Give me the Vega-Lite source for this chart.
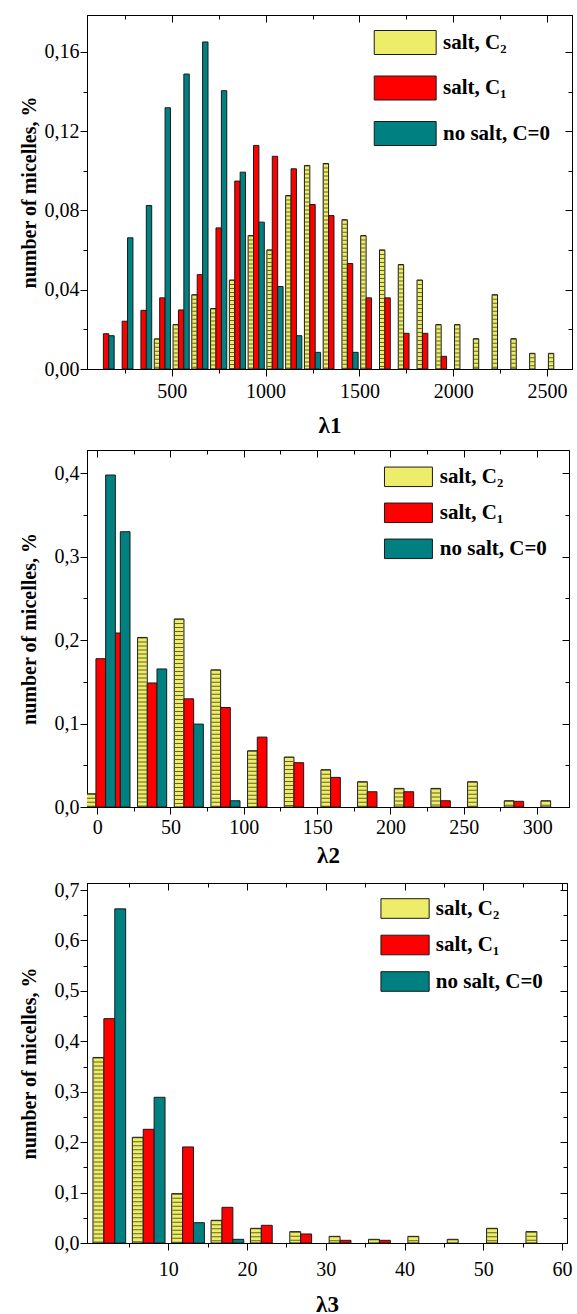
{
  "$schema": "https://vega.github.io/schema/vega-lite/v6.json",
  "padding": {"left": 18, "top": 14, "right": 0, "bottom": 0},
  "datasets": {
    "d1": [
      {"lam": 450, "series": "salt, C₂", "n": 0.0152},
      {"lam": 550, "series": "salt, C₂", "n": 0.0224},
      {"lam": 650, "series": "salt, C₂", "n": 0.0375},
      {"lam": 750, "series": "salt, C₂", "n": 0.0305},
      {"lam": 850, "series": "salt, C₂", "n": 0.0449},
      {"lam": 950, "series": "salt, C₂", "n": 0.0673},
      {"lam": 1050, "series": "salt, C₂", "n": 0.0601},
      {"lam": 1150, "series": "salt, C₂", "n": 0.0875},
      {"lam": 1250, "series": "salt, C₂", "n": 0.1027},
      {"lam": 1350, "series": "salt, C₂", "n": 0.1037},
      {"lam": 1450, "series": "salt, C₂", "n": 0.0753},
      {"lam": 1550, "series": "salt, C₂", "n": 0.0673},
      {"lam": 1650, "series": "salt, C₂", "n": 0.0601},
      {"lam": 1750, "series": "salt, C₂", "n": 0.0527},
      {"lam": 1850, "series": "salt, C₂", "n": 0.0449},
      {"lam": 1950, "series": "salt, C₂", "n": 0.0224},
      {"lam": 2050, "series": "salt, C₂", "n": 0.0224},
      {"lam": 2150, "series": "salt, C₂", "n": 0.0153},
      {"lam": 2250, "series": "salt, C₂", "n": 0.0375},
      {"lam": 2350, "series": "salt, C₂", "n": 0.0153},
      {"lam": 2450, "series": "salt, C₂", "n": 0.0079},
      {"lam": 2550, "series": "salt, C₂", "n": 0.0079},
      {"lam": 150, "series": "salt, C₁", "n": 0.0178},
      {"lam": 250, "series": "salt, C₁", "n": 0.0241},
      {"lam": 350, "series": "salt, C₁", "n": 0.0296},
      {"lam": 450, "series": "salt, C₁", "n": 0.0359},
      {"lam": 550, "series": "salt, C₁", "n": 0.0298},
      {"lam": 650, "series": "salt, C₁", "n": 0.0476},
      {"lam": 750, "series": "salt, C₁", "n": 0.0712},
      {"lam": 850, "series": "salt, C₁", "n": 0.0948},
      {"lam": 950, "series": "salt, C₁", "n": 0.1128},
      {"lam": 1050, "series": "salt, C₁", "n": 0.1073},
      {"lam": 1150, "series": "salt, C₁", "n": 0.101},
      {"lam": 1250, "series": "salt, C₁", "n": 0.083},
      {"lam": 1350, "series": "salt, C₁", "n": 0.0774},
      {"lam": 1450, "series": "salt, C₁", "n": 0.0532},
      {"lam": 1550, "series": "salt, C₁", "n": 0.0359},
      {"lam": 1650, "series": "salt, C₁", "n": 0.0359},
      {"lam": 1750, "series": "salt, C₁", "n": 0.018},
      {"lam": 1850, "series": "salt, C₁", "n": 0.018},
      {"lam": 1950, "series": "salt, C₁", "n": 0.0064},
      {"lam": 150, "series": "no salt, C=0", "n": 0.0168},
      {"lam": 250, "series": "no salt, C=0", "n": 0.0662},
      {"lam": 350, "series": "no salt, C=0", "n": 0.0825},
      {"lam": 450, "series": "no salt, C=0", "n": 0.1318},
      {"lam": 550, "series": "no salt, C=0", "n": 0.1488},
      {"lam": 650, "series": "no salt, C=0", "n": 0.165},
      {"lam": 750, "series": "no salt, C=0", "n": 0.1404},
      {"lam": 850, "series": "no salt, C=0", "n": 0.0993},
      {"lam": 950, "series": "no salt, C=0", "n": 0.0741},
      {"lam": 1050, "series": "no salt, C=0", "n": 0.0416},
      {"lam": 1150, "series": "no salt, C=0", "n": 0.0168},
      {"lam": 1250, "series": "no salt, C=0", "n": 0.0084},
      {"lam": 1450, "series": "no salt, C=0", "n": 0.0084}
    ],
    "d2": [
      {"lam": 2.5, "series": "salt, C₂", "n": 0.0158},
      {"lam": 37.5, "series": "salt, C₂", "n": 0.2033},
      {"lam": 62.5, "series": "salt, C₂", "n": 0.2255},
      {"lam": 87.5, "series": "salt, C₂", "n": 0.1644},
      {"lam": 112.5, "series": "salt, C₂", "n": 0.0674},
      {"lam": 137.5, "series": "salt, C₂", "n": 0.0599},
      {"lam": 162.5, "series": "salt, C₂", "n": 0.0447},
      {"lam": 187.5, "series": "salt, C₂", "n": 0.0303},
      {"lam": 212.5, "series": "salt, C₂", "n": 0.0223},
      {"lam": 237.5, "series": "salt, C₂", "n": 0.0223},
      {"lam": 262.5, "series": "salt, C₂", "n": 0.0303},
      {"lam": 287.5, "series": "salt, C₂", "n": 0.0075},
      {"lam": 312.5, "series": "salt, C₂", "n": 0.0075},
      {"lam": 2.5, "series": "salt, C₁", "n": 0.1778},
      {"lam": 12.5, "series": "salt, C₁", "n": 0.2086},
      {"lam": 37.5, "series": "salt, C₁", "n": 0.1487},
      {"lam": 62.5, "series": "salt, C₁", "n": 0.1297},
      {"lam": 87.5, "series": "salt, C₁", "n": 0.1193},
      {"lam": 112.5, "series": "salt, C₁", "n": 0.0838},
      {"lam": 137.5, "series": "salt, C₁", "n": 0.0531},
      {"lam": 162.5, "series": "salt, C₁", "n": 0.0355},
      {"lam": 187.5, "series": "salt, C₁", "n": 0.0183},
      {"lam": 212.5, "series": "salt, C₁", "n": 0.0183},
      {"lam": 237.5, "series": "salt, C₁", "n": 0.0075},
      {"lam": 287.5, "series": "salt, C₁", "n": 0.0068},
      {"lam": 2.5, "series": "no salt, C=0", "n": 0.398},
      {"lam": 12.5, "series": "no salt, C=0", "n": 0.33},
      {"lam": 37.5, "series": "no salt, C=0", "n": 0.1655},
      {"lam": 62.5, "series": "no salt, C=0", "n": 0.0994},
      {"lam": 87.5, "series": "no salt, C=0", "n": 0.0075}
    ],
    "d3": [
      {"lam": 2.5, "series": "salt, C₂", "n": 0.368},
      {"lam": 7.5, "series": "salt, C₂", "n": 0.2097},
      {"lam": 12.5, "series": "salt, C₂", "n": 0.0979},
      {"lam": 17.5, "series": "salt, C₂", "n": 0.045},
      {"lam": 22.5, "series": "salt, C₂", "n": 0.0291},
      {"lam": 27.5, "series": "salt, C₂", "n": 0.0225},
      {"lam": 32.5, "series": "salt, C₂", "n": 0.0132},
      {"lam": 37.5, "series": "salt, C₂", "n": 0.0073},
      {"lam": 42.5, "series": "salt, C₂", "n": 0.0132},
      {"lam": 47.5, "series": "salt, C₂", "n": 0.0073},
      {"lam": 52.5, "series": "salt, C₂", "n": 0.0291},
      {"lam": 57.5, "series": "salt, C₂", "n": 0.0225},
      {"lam": 2.5, "series": "salt, C₁", "n": 0.445},
      {"lam": 7.5, "series": "salt, C₁", "n": 0.2255},
      {"lam": 12.5, "series": "salt, C₁", "n": 0.1905},
      {"lam": 17.5, "series": "salt, C₁", "n": 0.0708},
      {"lam": 22.5, "series": "salt, C₁", "n": 0.0351},
      {"lam": 27.5, "series": "salt, C₁", "n": 0.0179},
      {"lam": 32.5, "series": "salt, C₁", "n": 0.0053},
      {"lam": 37.5, "series": "salt, C₁", "n": 0.0053},
      {"lam": 2.5, "series": "no salt, C=0", "n": 0.6627},
      {"lam": 7.5, "series": "no salt, C=0", "n": 0.289},
      {"lam": 12.5, "series": "no salt, C=0", "n": 0.0403},
      {"lam": 17.5, "series": "no salt, C=0", "n": 0.0073}
    ]
  },
  "concat": [
    {
      "width": 485, "height": 354,
      "data": {"name": "d1"},
      "layer": [
        {
          "encoding": {
            "x": {"field": "lam", "type": "quantitative", "scale": {"domain": [75, 2606], "nice": false, "zero": false},
              "axis": {"orient": "bottom", "values": [250, 500, 750, 1000, 1250, 1500, 1750, 2000, 2250, 2500], "title": "λ1", "titleFontSize": 23, "titlePadding": 13, "labelPadding": 5,
                "labelExpr": "datum.value % 500 === 0 ? format(datum.value, 'd') : ''",
                "tickSize": {"condition": {"test": "datum.value % 500 === 0", "value": 7}, "value": 4}}},
            "y": {"field": "n", "type": "quantitative", "scale": {"domain": [0, 0.1786], "nice": false},
              "axis": {"orient": "left", "values": [0, 0.02, 0.04, 0.06, 0.08, 0.1, 0.12, 0.14, 0.16], "title": "number of micelles, %", "titlePadding": 5, "labelPadding": 1,
                "labelExpr": "abs(datum.value / 0.04 - round(datum.value / 0.04)) < 1e-6 ? replace(format(datum.value, '.2f'), '.', ',') : ''",
                "tickSize": {"condition": {"test": "abs(datum.value / 0.04 - round(datum.value / 0.04)) < 1e-6", "value": 7}, "value": 4}}},
            "color": {"field": "series", "type": "nominal",
              "scale": {"domain": ["salt, C₂", "salt, C₁", "no salt, C=0"], "range": ["#eded6a", "#ff0000", "#008080"]},
              "legend": {"orient": "none", "legendX": 305.7, "legendY": 15, "title": null, "padding": 0,
                "symbolType": "M-2.58,-1H2.58V1H-2.58Z", "symbolSize": 576, "symbolStrokeColor": "#1a1a1a", "symbolStrokeWidth": 1, "symbolOpacity": 1,
                "labelFont": "Liberation Serif", "labelFontWeight": "bold", "labelFontSize": 21, "labelColor": "black", "labelOffset": 25.3, "rowPadding": 16.5, "labelLimit": 300}}
          },
          "layer": [
            {"transform": [{"filter": "datum.series === 'salt, C₂'"}], "mark": {"type": "bar", "width": 5.4, "xOffset": -5.4, "stroke": "#1a1a1a", "strokeWidth": 1, "clip": true}},
            {"transform": [{"filter": "datum.series === 'salt, C₂'"}], "mark": {"type": "rule", "xOffset": -5.4, "strokeWidth": 4.2, "strokeDash": [1, 3], "opacity": 0.7, "clip": true},
              "encoding": {"y2": {"datum": 0}, "color": {"value": "#2a2a10"}}},
            {"transform": [{"filter": "datum.series === 'salt, C₁'"}], "mark": {"type": "bar", "width": 5.4, "xOffset": 0, "stroke": "#1a1a1a", "strokeWidth": 1, "clip": true}},
            {"transform": [{"filter": "datum.series === 'no salt, C=0'"}], "mark": {"type": "bar", "width": 5.4, "xOffset": 5.4, "stroke": "#1a1a1a", "strokeWidth": 1, "clip": true}}
          ]
        },
        {
          "mark": {"type": "point", "opacity": 0},
          "encoding": {
            "x": {"field": "lam", "type": "quantitative", "scale": {"domain": [75, 2606], "nice": false, "zero": false},
              "axis": {"orient": "top", "values": [250, 500, 750, 1000, 1250, 1500, 1750, 2000, 2250, 2500], "title": null, "labels": false,
                "tickSize": {"condition": {"test": "datum.value % 500 === 0", "value": -7}, "value": -4}}},
            "y": {"field": "n", "type": "quantitative", "scale": {"domain": [0, 0.1786], "nice": false},
              "axis": {"orient": "right", "values": [0, 0.02, 0.04, 0.06, 0.08, 0.1, 0.12, 0.14, 0.16], "title": null, "labels": false,
                "tickSize": {"condition": {"test": "abs(datum.value / 0.04 - round(datum.value / 0.04)) < 1e-6", "value": -7}, "value": -4}}}
          }
        }
      ],
      "resolve": {"axis": {"x": "independent", "y": "independent"}}
    },
    {
      "width": 482, "height": 357,
      "data": {"name": "d2"},
      "layer": [
        {
          "encoding": {
            "x": {"field": "lam", "type": "quantitative", "scale": {"domain": [-3.5, 318.3], "nice": false, "zero": false},
              "axis": {"orient": "bottom", "values": [0, 25, 50, 75, 100, 125, 150, 175, 200, 225, 250, 275, 300], "title": "λ2", "titleFontSize": 23, "titlePadding": 7, "labelPadding": 3,
                "labelExpr": "datum.value % 50 === 0 ? format(datum.value, 'd') : ''",
                "tickSize": {"condition": {"test": "datum.value % 50 === 0", "value": 7}, "value": 4}}},
            "y": {"field": "n", "type": "quantitative", "scale": {"domain": [0, 0.428], "nice": false},
              "axis": {"orient": "left", "values": [0, 0.05, 0.1, 0.15, 0.2, 0.25, 0.3, 0.35, 0.4], "title": "number of micelles, %", "titlePadding": 15, "labelPadding": 1,
                "labelExpr": "abs(datum.value / 0.1 - round(datum.value / 0.1)) < 1e-6 ? replace(format(datum.value, '.1f'), '.', ',') : ''",
                "tickSize": {"condition": {"test": "abs(datum.value / 0.1 - round(datum.value / 0.1)) < 1e-6", "value": 7}, "value": 4}}},
            "color": {"field": "series", "type": "nominal",
              "scale": {"domain": ["salt, C₂", "salt, C₁", "no salt, C=0"], "range": ["#eded6a", "#ff0000", "#008080"]},
              "legend": {"orient": "none", "legendX": 310.95, "legendY": 16.3, "title": null, "padding": 0,
                "symbolType": "M-2.46,-1H2.46V1H-2.46Z", "symbolSize": 380, "symbolStrokeColor": "#1a1a1a", "symbolStrokeWidth": 1, "symbolOpacity": 1,
                "labelFont": "Liberation Serif", "labelFontWeight": "bold", "labelFontSize": 21, "labelColor": "black", "labelOffset": 20.85, "rowPadding": 11, "labelLimit": 300}}
          },
          "layer": [
            {"transform": [{"filter": "datum.series === 'salt, C₂'"}], "mark": {"type": "bar", "width": 9.7, "xOffset": -9.7, "stroke": "#1a1a1a", "strokeWidth": 1, "clip": true}},
            {"transform": [{"filter": "datum.series === 'salt, C₂'"}], "mark": {"type": "rule", "xOffset": -9.7, "strokeWidth": 8.5, "strokeDash": [1, 3], "opacity": 0.7, "clip": true},
              "encoding": {"y2": {"datum": 0}, "color": {"value": "#2a2a10"}}},
            {"transform": [{"filter": "datum.series === 'salt, C₁'"}], "mark": {"type": "bar", "width": 9.7, "xOffset": 0, "stroke": "#1a1a1a", "strokeWidth": 1, "clip": true}},
            {"transform": [{"filter": "datum.series === 'no salt, C=0'"}], "mark": {"type": "bar", "width": 9.7, "xOffset": 9.7, "stroke": "#1a1a1a", "strokeWidth": 1, "clip": true}}
          ]
        },
        {
          "mark": {"type": "point", "opacity": 0},
          "encoding": {
            "x": {"field": "lam", "type": "quantitative", "scale": {"domain": [-3.5, 318.3], "nice": false, "zero": false},
              "axis": {"orient": "top", "values": [0, 25, 50, 75, 100, 125, 150, 175, 200, 225, 250, 275, 300], "title": null, "labels": false,
                "tickSize": {"condition": {"test": "datum.value % 50 === 0", "value": -7}, "value": -4}}},
            "y": {"field": "n", "type": "quantitative", "scale": {"domain": [0, 0.428], "nice": false},
              "axis": {"orient": "right", "values": [0, 0.05, 0.1, 0.15, 0.2, 0.25, 0.3, 0.35, 0.4], "title": null, "labels": false,
                "tickSize": {"condition": {"test": "abs(datum.value / 0.1 - round(datum.value / 0.1)) < 1e-6", "value": -7}, "value": -4}}}
          }
        }
      ],
      "resolve": {"axis": {"x": "independent", "y": "independent"}}
    },
    {
      "width": 480, "height": 360,
      "data": {"name": "d3"},
      "layer": [
        {
          "encoding": {
            "x": {"field": "lam", "type": "quantitative", "scale": {"domain": [0.3, 60], "nice": false, "zero": false},
              "axis": {"orient": "bottom", "values": [5, 10, 15, 20, 25, 30, 35, 40, 45, 50, 55, 60], "title": "λ3", "titleFontSize": 23, "titlePadding": 14, "labelPadding": 9,
                "labelExpr": "datum.value % 10 === 0 ? format(datum.value, 'd') : ''",
                "tickSize": {"condition": {"test": "datum.value % 10 === 0", "value": 7}, "value": 4}}},
            "y": {"field": "n", "type": "quantitative", "scale": {"domain": [0, 0.714], "nice": false},
              "axis": {"orient": "left", "values": [0, 0.05, 0.1, 0.15, 0.2, 0.25, 0.3, 0.35, 0.4, 0.45, 0.5, 0.55, 0.6, 0.65, 0.7], "title": "number of micelles, %", "titlePadding": 15, "labelPadding": 1,
                "labelExpr": "abs(datum.value / 0.1 - round(datum.value / 0.1)) < 1e-6 ? replace(format(datum.value, '.1f'), '.', ',') : ''",
                "tickSize": {"condition": {"test": "abs(datum.value / 0.1 - round(datum.value / 0.1)) < 1e-6", "value": 7}, "value": 4}}},
            "color": {"field": "series", "type": "nominal",
              "scale": {"domain": ["salt, C₂", "salt, C₁", "no salt, C=0"], "range": ["#eded6a", "#ff0000", "#008080"]},
              "legend": {"orient": "none", "legendX": 307.55, "legendY": 15, "title": null, "padding": 0,
                "symbolType": "M-2.46,-1H2.46V1H-2.46Z", "symbolSize": 384, "symbolStrokeColor": "#1a1a1a", "symbolStrokeWidth": 1, "symbolOpacity": 1,
                "labelFont": "Liberation Serif", "labelFontWeight": "bold", "labelFontSize": 21, "labelColor": "black", "labelOffset": 20.25, "rowPadding": 11.5, "labelLimit": 300}}
          },
          "layer": [
            {"transform": [{"filter": "datum.series === 'salt, C₂'"}], "mark": {"type": "bar", "width": 10.9, "xOffset": -10.9, "stroke": "#1a1a1a", "strokeWidth": 1, "clip": true}},
            {"transform": [{"filter": "datum.series === 'salt, C₂'"}], "mark": {"type": "rule", "xOffset": -10.9, "strokeWidth": 9.7, "strokeDash": [1, 3], "opacity": 0.7, "clip": true},
              "encoding": {"y2": {"datum": 0}, "color": {"value": "#2a2a10"}}},
            {"transform": [{"filter": "datum.series === 'salt, C₁'"}], "mark": {"type": "bar", "width": 10.9, "xOffset": 0, "stroke": "#1a1a1a", "strokeWidth": 1, "clip": true}},
            {"transform": [{"filter": "datum.series === 'no salt, C=0'"}], "mark": {"type": "bar", "width": 10.9, "xOffset": 10.9, "stroke": "#1a1a1a", "strokeWidth": 1, "clip": true}}
          ]
        },
        {
          "mark": {"type": "point", "opacity": 0},
          "encoding": {
            "x": {"field": "lam", "type": "quantitative", "scale": {"domain": [0.3, 60], "nice": false, "zero": false},
              "axis": {"orient": "top", "values": [5, 10, 15, 20, 25, 30, 35, 40, 45, 50, 55, 60], "title": null, "labels": false,
                "tickSize": {"condition": {"test": "datum.value % 10 === 0", "value": -7}, "value": -4}}},
            "y": {"field": "n", "type": "quantitative", "scale": {"domain": [0, 0.714], "nice": false},
              "axis": {"orient": "right", "values": [0, 0.05, 0.1, 0.15, 0.2, 0.25, 0.3, 0.35, 0.4, 0.45, 0.5, 0.55, 0.6, 0.65, 0.7], "title": null, "labels": false,
                "tickSize": {"condition": {"test": "abs(datum.value / 0.1 - round(datum.value / 0.1)) < 1e-6", "value": -7}, "value": -4}}}
          }
        }
      ],
      "resolve": {"axis": {"x": "independent", "y": "independent"}}
    }
  ],
  "columns": 1,
  "align": "none",
  "spacing": 11,
  "resolve": {"scale": {"x": "independent", "y": "independent", "color": "independent"}, "legend": {"color": "independent"}},
  "config": {
    "font": "Liberation Serif",
    "view": {"stroke": "black", "strokeWidth": 1},
    "axis": {"domainColor": "black", "tickColor": "black", "labelColor": "black", "titleColor": "black",
      "labelFont": "Liberation Serif", "titleFont": "Liberation Serif", "labelFontSize": 20, "titleFontSize": 20,
      "titleFontWeight": "bold", "grid": false, "labelFlush": false, "labelOverlap": false, "domainWidth": 1, "tickWidth": 1}
  }
}
